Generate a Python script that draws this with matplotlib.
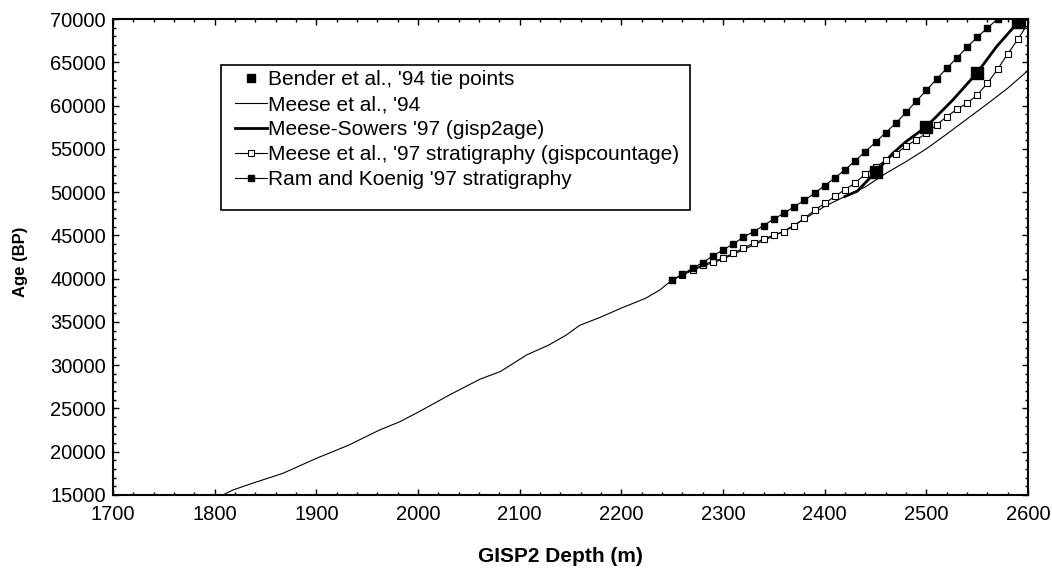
import numpy as np
import matplotlib
matplotlib.use("Agg")
import matplotlib.pyplot as plt
from matplotlib.patches import Rectangle
from matplotlib.ticker import MultipleLocator

plt.rcParams["font.family"] = ["Liberation Sans", "DejaVu Sans"]

# --- Meese et al. '94 (thin line) ---
meese94_depth = [1800, 1808, 1818, 1837, 1867, 1900, 1932, 1962, 1982, 2001, 2030,
                 2061, 2081, 2107, 2129, 2146, 2159, 2179, 2200, 2224, 2238, 2250,
                 2260, 2270, 2280, 2290, 2300, 2320, 2340, 2360, 2380, 2400, 2420,
                 2440, 2460, 2480, 2500, 2520, 2540, 2560, 2580, 2600]
meese94_age = [14600, 15000, 15580, 16350, 17500, 19230, 20770, 22500, 23460, 24620, 26500,
               28385, 29265, 31190, 32350, 33500, 34600, 35520, 36600, 37740, 38700, 39850,
               40400, 40950, 41450, 41850, 42250, 43350, 44400, 45500, 46900, 48350, 49500,
               50600, 52150, 53520, 55000, 56700, 58450, 60200, 62000, 64050]

# --- Meese-Sowers '97 gisp2age (thick line) ---
sowers_depth = [2420, 2432, 2450, 2467, 2480, 2500, 2526, 2550, 2569, 2590, 2600]
sowers_age = [49500, 50100, 52300, 54480, 55830, 57560, 60640, 63800, 66800, 69600, 70900]

# --- Bender et al. '94 tie points ---
bender_depth = [2450, 2500, 2550, 2590]
bender_age = [52300, 57500, 63800, 69600]

# --- Meese et al. '97 stratigraphy (gispcountage), open squares ---
strat_depth = list(range(2250, 2601, 10))
strat_age = [39850, 40450, 41050, 41600, 41980, 42360, 42940, 43520, 44090, 44550,
             45050, 45430, 46090, 46980, 47900, 48700, 49500, 50300, 51050, 52100,
             52900, 53680, 54410, 55330, 56025, 56800, 57760, 58720, 59570, 60260,
             61220, 62570, 64190, 65960, 67650, 69500]

# --- Ram and Koenig '97 stratigraphy, filled squares ---
ram_depth = list(range(2250, 2571, 10))
ram_age = [39850, 40510, 41200, 41850, 42630, 43320, 44010, 44790, 45430, 46130,
           46900, 47560, 48320, 49050, 49870, 50750, 51640, 52580, 53620, 54670,
           55760, 56870, 57960, 59200, 60500, 61750, 63050, 64300, 65500, 66750,
           67900, 68950, 70000]

fig = plt.figure(figsize=(10.52, 5.71), dpi=100)
ax = fig.add_axes([0.1074, 0.1331, 0.8698, 0.8336])

ax.plot(meese94_depth, meese94_age, color="black", lw=0.8,
        label="Meese et al., '94")
ax.plot(sowers_depth, sowers_age, color="black", lw=2.0,
        label="Meese-Sowers '97 (gisp2age)")
ax.plot(strat_depth, strat_age, color="black", lw=0.8, marker="s", ms=5,
        mfc="white", mec="black", mew=0.8,
        label="Meese et al., '97 stratigraphy (gispcountage)")
ax.plot(ram_depth, ram_age, color="black", lw=0.8, marker="s", ms=5,
        mfc="black", mec="black",
        label="Ram and Koenig '97 stratigraphy")
ax.plot(bender_depth, bender_age, ls="none", marker="s", ms=8, color="black",
        label="Bender et al., '94 tie points")

ax.set_xlim(1700, 2600)
ax.set_ylim(15000, 70000)
ax.xaxis.set_major_locator(MultipleLocator(100))
ax.xaxis.set_minor_locator(MultipleLocator(20))
ax.yaxis.set_major_locator(MultipleLocator(5000))
ax.yaxis.set_minor_locator(MultipleLocator(1000))

ax.tick_params(which="both", direction="in", top=True, right=True,
               width=1.0, labelsize=14.5)
ax.tick_params(which="major", length=4.5)
ax.tick_params(which="minor", length=2.2)
ax.tick_params(axis="x", pad=7)
ax.tick_params(axis="y", pad=5)
for s in ax.spines.values():
    s.set_linewidth(1.5)

ax.set_xlabel("GISP2 Depth (m)", fontsize=15, fontweight="bold")
ax.set_ylabel("Age (BP)", fontsize=12, fontweight="bold")
ax.xaxis.set_label_coords(0.4885, -0.109)
ax.yaxis.set_label_coords(-0.093, 0.49)

# legend box drawn by hand (the original has extra room under the last row)
ax.add_patch(Rectangle((0.1177, 0.5987), 0.5129, 0.3046, transform=ax.transAxes,
                       facecolor="white", edgecolor="black", lw=1.2, zorder=4))

h, l = ax.get_legend_handles_labels()
order = [4, 0, 1, 2, 3]
leg = ax.legend([h[i] for i in order], [l[i] for i in order],
                loc="upper left", bbox_to_anchor=(0.1333, 0.8929),
                fontsize=15, frameon=False, numpoints=1,
                handlelength=1.54, handletextpad=0.05, labelspacing=0.29,
                borderpad=0, borderaxespad=0, markerscale=0.8)
leg.set_zorder(5)

fig.savefig("out.png", dpi=100)
